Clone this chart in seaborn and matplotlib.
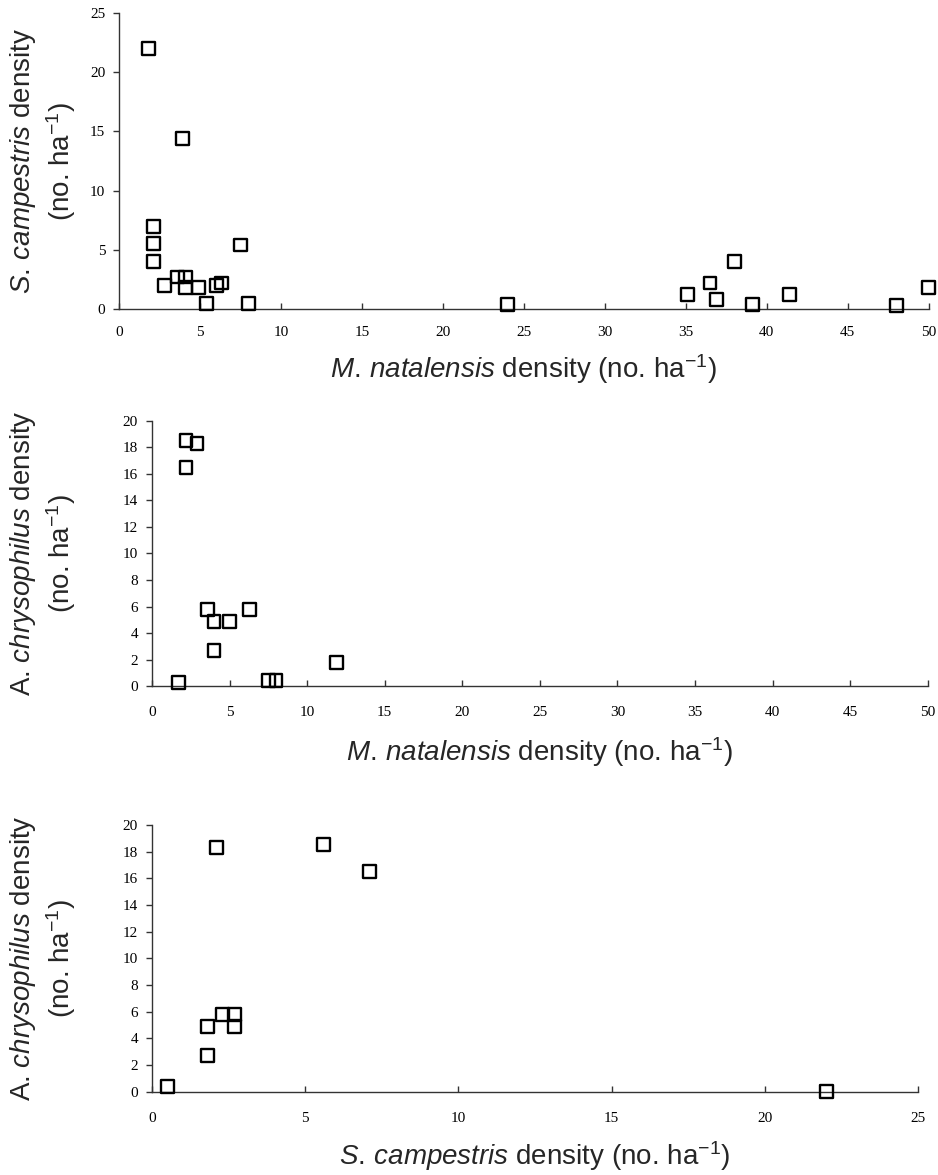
import numpy as np
import pandas as pd
import seaborn as sns
import matplotlib
matplotlib.use("Agg")
import matplotlib.pyplot as plt

# panel A: S. campestris vs M. natalensis
natal_a = [1.8, 3.9, 2.1, 2.1, 2.1, 2.8, 3.6, 4.1, 4.1, 4.9, 5.4, 6.0, 6.3, 7.5, 8.0,
           24.0, 35.1, 36.5, 36.9, 38.0, 39.1, 41.4, 48.0, 50.0]
campes_a = [22.0, 14.4, 7.0, 5.5, 4.0, 2.0, 2.7, 2.7, 1.8, 1.8, 0.45, 2.0, 2.2, 5.4, 0.45,
            0.4, 1.2, 2.2, 0.8, 4.0, 0.4, 1.2, 0.3, 1.8]

# panel B: A. chrysophilus vs M. natalensis
natal_b = [2.2, 2.9, 2.2, 3.6, 4.0, 5.0, 6.3, 4.0, 1.7, 7.5, 8.0, 11.9]
chryso_b = [18.5, 18.3, 16.5, 5.8, 4.9, 4.9, 5.8, 2.7, 0.25, 0.4, 0.4, 1.8]

# panel C: A. chrysophilus vs S. campestris
campes_c = [0.5, 1.8, 1.8, 2.1, 2.3, 2.7, 2.7, 5.6, 7.1, 22.0]
chryso_c = [0.4, 2.7, 4.9, 18.3, 5.8, 5.8, 4.9, 18.5, 16.5, 0.0]

df_a = pd.DataFrame({"x": natal_a, "y": campes_a})
df_b = pd.DataFrame({"x": natal_b, "y": chryso_b})
df_c = pd.DataFrame({"x": campes_c, "y": chryso_c})

sns.set_style("white")
plt.rcParams["font.family"] = ["Liberation Serif", "DejaVu Serif"]
plt.rcParams["mathtext.fontset"] = "custom"
plt.rcParams["mathtext.rm"] = "Liberation Sans"
plt.rcParams["mathtext.it"] = "Liberation Sans:italic"
plt.rcParams["mathtext.default"] = "rm"

fig = plt.figure(figsize=(9.38, 11.75), dpi=100)
ax1 = fig.add_axes([0.127, 0.737, 0.863, 0.252])
ax2 = fig.add_axes([0.162, 0.416, 0.827, 0.226])
ax3 = fig.add_axes([0.162, 0.071, 0.817, 0.227])

unit = r"(no. ha$^{-1}$)"
panels = [
    (ax1, df_a, 50, 25, 5, 5, r"$\it{M.\,natalensis}$ density " + unit,
     r"$\it{S.\,campestris}$ density" + "\n" + unit, -0.051, 12, 10),
    (ax2, df_b, 50, 20, 5, 2, r"$\it{M.\,natalensis}$ density " + unit,
     r"A. $\it{chrysophilus}$ density" + "\n" + unit, -0.095, 14, 12),
    (ax3, df_c, 25, 20, 5, 2, r"$\it{S.\,campestris}$ density " + unit,
     r"A. $\it{chrysophilus}$ density" + "\n" + unit, -0.096, 15, 10),
]

for ax, d, xmax, ymax, xstep, ystep, xlab, ylab, ylx, tpad, lpad in panels:
    sns.scatterplot(data=d, x="x", y="y", ax=ax, marker="s", s=85,
                    facecolor="none", edgecolor="black", linewidth=1.7,
                    clip_on=False, zorder=3)
    ax.set_xlim(0, xmax)
    ax.set_ylim(0, ymax)
    ax.set_xticks(np.arange(0, xmax + 1, xstep))
    ax.set_yticks(np.arange(0, ymax + 1, ystep))
    for side in ["top", "right"]:
        ax.spines[side].set_visible(False)
    for side in ["left", "bottom"]:
        ax.spines[side].set_color("#333333")
        ax.spines[side].set_linewidth(1.0)
    ax.tick_params(axis="x", direction="in", length=4, width=1, colors="#333333",
                   labelcolor="black", labelsize=11, pad=tpad, bottom=True)
    ax.tick_params(axis="y", direction="out", length=4, width=1, colors="#333333",
                   labelcolor="black", labelsize=11, pad=6, left=True)
    ax.set_xlabel(xlab, fontsize=20, family="Liberation Sans", labelpad=lpad)
    ax.set_ylabel(ylab, fontsize=20, family="Liberation Sans", linespacing=1.25)
    ax.yaxis.set_label_coords(ylx, 0.5)

plt.savefig("out.png", dpi=100)
